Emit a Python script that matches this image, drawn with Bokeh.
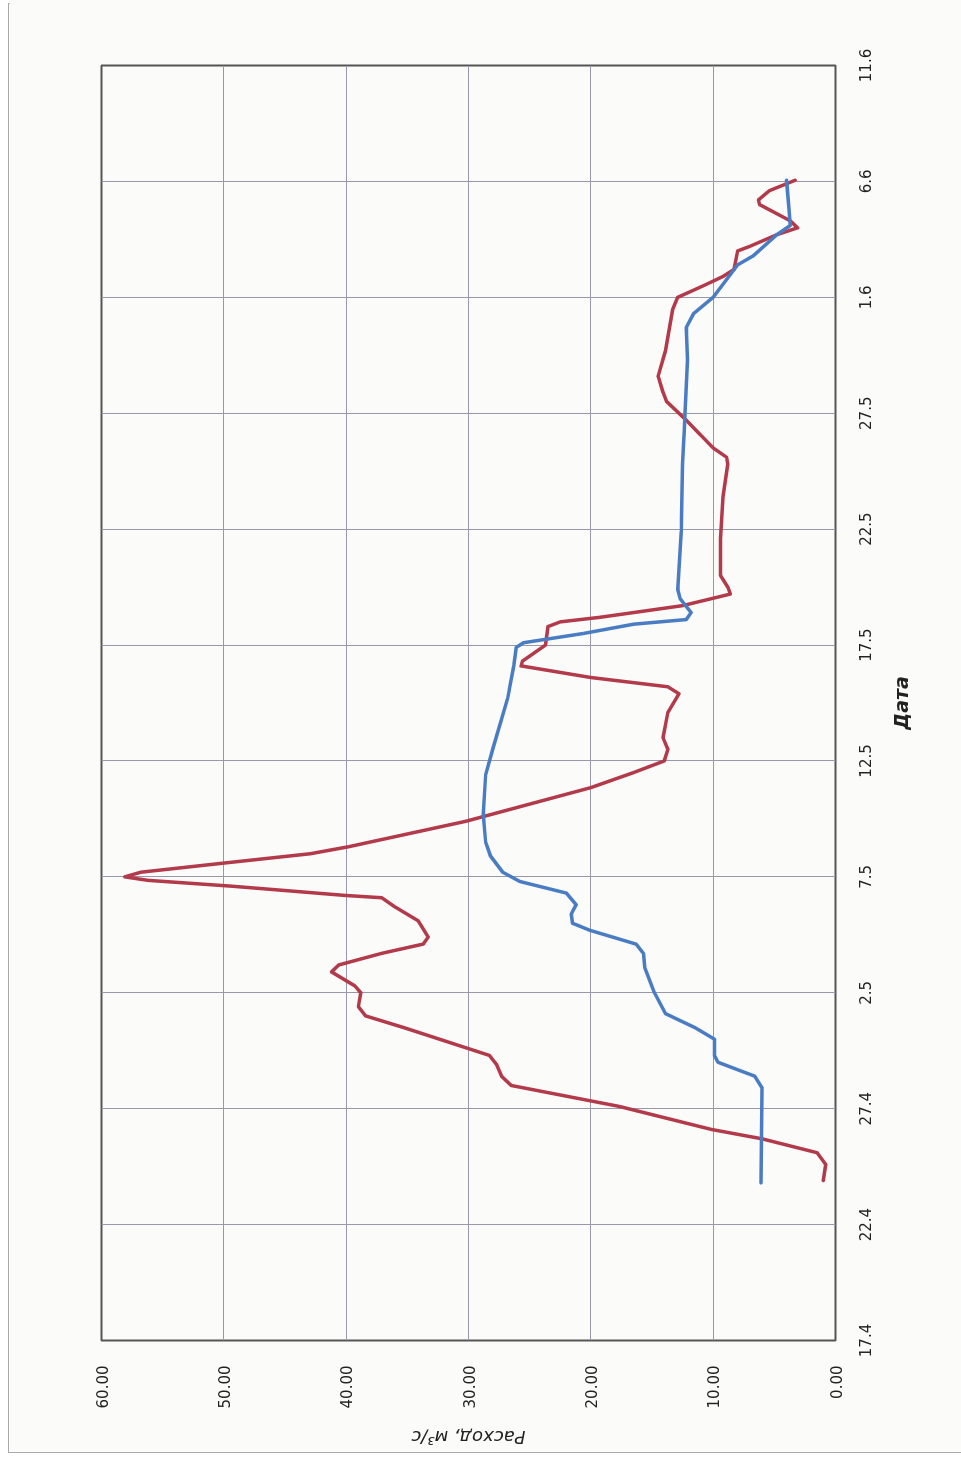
from math import pi
from bokeh.plotting import figure
from bokeh.models import Range1d, FixedTicker, PrintfTickFormatter, Legend, LegendItem
from bokeh.embed import file_html
from bokeh.resources import INLINE

# ---- data (day offset from 17.4) ----
date_ticks = [0, 5, 10, 15, 20, 25, 30, 35, 40, 45, 50, 55]
date_labels = ["17.4", "22.4", "27.4", "2.5", "7.5", "12.5", "17.5",
               "22.5", "27.5", "1.6", "6.6", "11.6"]
flow_ticks = [0, 10, 20, 30, 40, 50, 60]

inflow_day = [6.9, 7.6, 8.1, 8.7, 9.1, 10.1, 11.0, 11.4, 11.9, 12.3, 13.5, 14.0,
              14.4, 15.0, 15.3, 15.9, 16.2, 16.7, 17.1, 17.4, 18.1, 18.7, 19.1,
              19.2, 19.6, 19.85, 20.0, 20.2, 20.6, 21.0, 21.3, 22.4, 23.85, 24.5,
              25.0, 25.5, 26.0, 27.1, 27.9, 28.2, 28.6, 29.1, 29.3, 30.0, 30.8,
              31.0, 31.2, 31.7, 32.2, 32.5, 33.0, 34.6, 36.4, 37.8, 38.1, 38.5,
              39.7, 40.5, 40.9, 41.6, 42.7, 44.5, 45.0, 45.5, 45.9, 46.2, 47.0,
              47.2, 47.7, 48.0, 48.3, 49.0, 49.2, 49.6, 50.05]
inflow_val = [1.0, 0.8, 1.5, 6.0, 10.1, 17.7, 26.5, 27.3, 27.7, 28.3, 35.3, 38.4,
              39.0, 38.8, 39.3, 41.2, 40.6, 37.1, 33.7, 33.3, 34.1, 36.0, 37.1,
              40.1, 49.4, 56.2, 58.1, 56.8, 49.9, 42.9, 39.8, 30.2, 20.0, 16.5,
              14.0, 13.7, 14.1, 13.7, 12.8, 13.7, 20.0, 25.7, 25.6, 23.7, 23.5,
              22.5, 19.2, 12.5, 8.6, 8.8, 9.4, 9.4, 9.2, 8.8, 8.9, 10.0,
              12.2, 13.8, 14.1, 14.5, 13.9, 13.3, 12.9, 10.8, 9.2, 8.3, 8.0,
              7.0, 4.8, 3.1, 3.7, 6.2, 6.3, 5.4, 3.3]

outflow_day = [6.8, 10.9, 11.4, 12.0, 12.3, 13.0, 13.5, 14.1, 15.0, 16.1, 16.7,
               17.1, 17.7, 18.0, 18.4, 18.8, 19.3, 19.8, 20.2, 20.9, 21.5, 22.7,
               24.4, 25.55, 27.7, 29.1, 29.9, 30.1, 30.5, 30.9, 31.1, 31.4, 32.0,
               32.4, 34.9, 37.8, 40.0, 42.3, 43.7, 44.3, 45.0, 46.4, 46.8, 47.7,
               48.1, 48.8, 50.05]
outflow_val = [6.1, 6.0, 6.6, 9.6, 9.9, 9.9, 11.5, 13.9, 14.8, 15.6, 15.7,
               16.3, 20.1, 21.5, 21.6, 21.2, 22.0, 25.8, 27.2, 28.2, 28.6, 28.8,
               28.6, 28.0, 26.8, 26.3, 26.1, 25.5, 20.6, 16.5, 12.2, 11.8, 12.7,
               12.9, 12.6, 12.5, 12.3, 12.1, 12.2, 11.6, 10.0, 8.0, 6.7, 4.8,
               3.7, 3.8, 4.0]

series_names = ["Приток", "Сброс"]

RED = "#b23a4a"
BLUE = "#4a7cc4"
BG = "#fbfbf9"
GRID = "#9898aa"
FONT = "DejaVu Sans"
TXT = "#222222"

# The reference is a page turned a quarter turn: the chart is built upright
# (dates along x, flow along y) and then the whole figure is turned with CSS.
FIG_W = 108 + 1275 + 62

p = figure(frame_width=1275, frame_height=734,
           x_range=Range1d(0, 55), y_range=Range1d(0, 60),
           output_backend="svg", toolbar_location=None,
           min_border_left=108, min_border_right=62,
           min_border_top=92, min_border_bottom=100,
           background_fill_color=BG, border_fill_color=BG)
p.styles = {
    "position": "fixed",
    "left": "8px",
    "top": "8px",
    "transform-origin": "0 0",
    "transform": f"translate(0px, {FIG_W}px) rotate(-90deg)",
    "border": "1px solid #a8a8a8",
}

p.outline_line_color = "#555555"
p.outline_line_width = 2

# date axis
xa = p.xaxis[0]
xa.ticker = FixedTicker(ticks=date_ticks)
xa.major_label_overrides = {t: s for t, s in zip(date_ticks, date_labels)}
xa.major_label_standoff = 23
xa.axis_label = "Дата"
xa.axis_label_standoff = 16
xa.axis_label_text_font = FONT
xa.axis_label_text_font_style = "bold italic"
xa.axis_label_text_font_size = "19px"
xa.axis_label_text_color = TXT

# flow axis
ya = p.yaxis[0]
ya.ticker = FixedTicker(ticks=flow_ticks)
ya.formatter = PrintfTickFormatter(format="%.2f")
ya.major_label_standoff = 25
ya.axis_label = "Расход, м³/с"
ya.axis_label_standoff = 16
ya.axis_label_text_font = FONT
ya.axis_label_text_font_style = "italic"
ya.axis_label_text_font_size = "18px"
ya.axis_label_text_color = TXT

for ax in (xa, ya):
    ax.major_tick_out = 0
    ax.major_tick_in = 0
    ax.minor_tick_out = 0
    ax.minor_tick_in = 0
    ax.axis_line_color = None
    ax.major_label_text_font = FONT
    ax.major_label_text_font_size = "15px"
    ax.major_label_text_color = TXT

p.xgrid.ticker = FixedTicker(ticks=date_ticks)
p.ygrid.ticker = FixedTicker(ticks=flow_ticks)
p.xgrid.grid_line_color = GRID
p.ygrid.grid_line_color = GRID

r_in = p.line(inflow_day, inflow_val, line_color=RED, line_width=3.5,
              line_join="round", line_cap="round")
r_out = p.line(outflow_day, outflow_val, line_color=BLUE, line_width=3.5,
               line_join="round", line_cap="round")

legend = Legend(items=[LegendItem(label=series_names[0], renderers=[r_in]),
                       LegendItem(label=series_names[1], renderers=[r_out])],
                orientation="horizontal", location=(400, 30),
                glyph_width=30, glyph_height=18, label_height=18,
                label_standoff=3, spacing=297,
                padding=4, margin=0,
                border_line_color=None, background_fill_alpha=0,
                label_text_font=FONT, label_text_font_size="18px",
                label_text_color=TXT)
p.add_layout(legend, "below")

open("out.html", "w").write(file_html(p, INLINE))
